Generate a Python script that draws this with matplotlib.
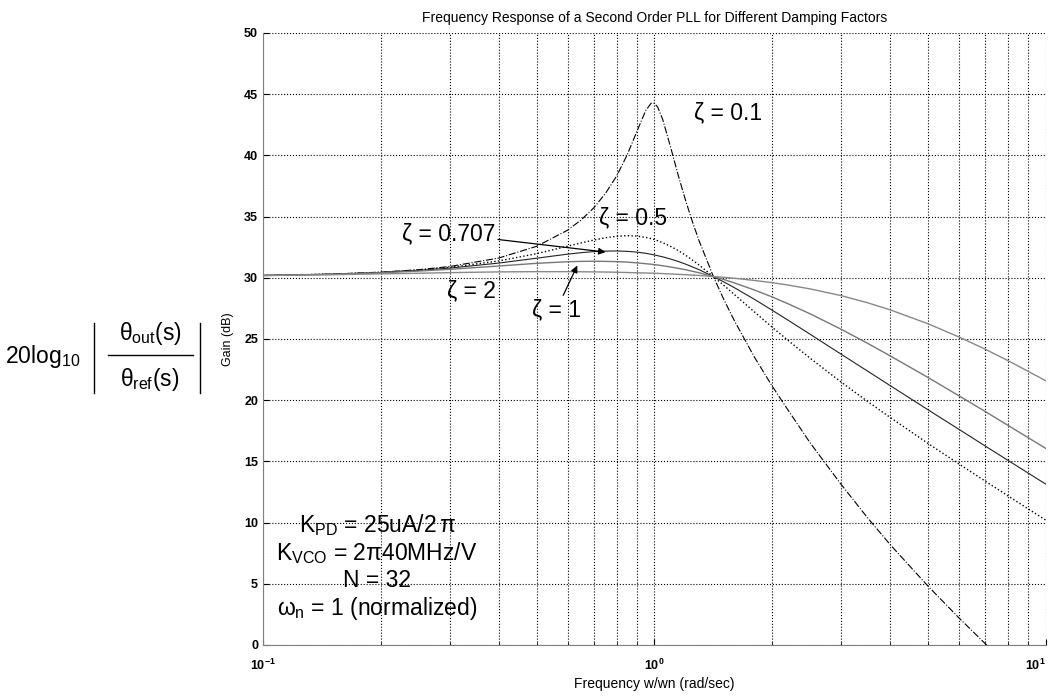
import matplotlib
matplotlib.use("Agg")
import matplotlib.pyplot as plt
import matplotlib.transforms as mtransforms
from matplotlib.lines import Line2D
import numpy as np

plt.rcParams['font.family'] = ['Liberation Sans', 'DejaVu Sans']
plt.rcParams['mathtext.fontset'] = 'custom'
plt.rcParams['mathtext.rm'] = 'Liberation Sans'
plt.rcParams['mathtext.it'] = 'Liberation Sans'
plt.rcParams['mathtext.bf'] = 'Liberation Sans:bold'

# normalized frequency w/wn
w = [0.1, 0.15, 0.2, 0.25, 0.3, 0.4, 0.5, 0.6, 0.65, 0.7, 0.75, 0.8, 0.85, 0.9, 0.95, 0.98,
     1.0, 1.02, 1.05, 1.1, 1.15, 1.2, 1.25, 1.3, 1.414, 1.5, 1.6, 1.8, 2.0, 2.2, 2.5, 3,
     3.5, 4, 5, 6, 7, 8, 10]

# closed loop gain (dB) for each damping factor
gain_z01 = [30.19, 30.30, 30.46, 30.66, 30.92, 31.61, 32.57, 33.89, 34.73, 35.72, 36.90, 38.30,
            39.98, 41.89, 43.67, 44.25, 44.25, 43.92, 42.92, 40.65, 38.37, 36.35, 34.58, 33.03,
            30.10, 28.30, 26.49, 23.52, 21.13, 19.13, 16.50, 13.10, 10.40, 8.20, 4.80, 2.20,
            0.10, -1.50, -3.90]
gain_z05 = [30.19, 30.30, 30.44, 30.63, 30.85, 31.37, 31.97, 32.58, 32.85, 33.08, 33.27, 33.39,
            33.44, 33.41, 33.30, 33.20, 33.11, 33.02, 32.87, 32.56, 32.22, 31.85, 31.45, 31.04,
            30.10, 29.41, 28.63, 27.21, 25.95, 24.85, 23.42, 21.47, 19.90, 18.59, 16.46, 14.78,
            13.38, 12.18, 10.19]
gain_z0707 = [30.19, 30.29, 30.43, 30.60, 30.79, 31.20, 31.60, 31.93, 32.05, 32.14, 32.18, 32.19,
              32.16, 32.10, 32.00, 31.92, 31.86, 31.80, 31.71, 31.53, 31.33, 31.12, 30.89, 30.66,
              30.10, 29.68, 29.19, 28.24, 27.34, 26.51, 25.38, 23.75, 22.38, 21.19, 19.21, 17.61,
              16.25, 15.08, 13.13]
gain_z1 = [30.19, 30.28, 30.41, 30.55, 30.69, 30.96, 31.18, 31.31, 31.34, 31.35, 31.34, 31.32,
           31.28, 31.22, 31.15, 31.11, 31.07, 31.04, 30.98, 30.88, 30.77, 30.66, 30.53, 30.41,
           30.10, 29.87, 29.58, 29.00, 28.43, 27.86, 27.05, 25.79, 24.65, 23.62, 21.85, 20.35,
           19.07, 17.94, 16.05]
gain_z2 = [30.18, 30.25, 30.32, 30.37, 30.42, 30.48, 30.50, 30.50, 30.49, 30.48, 30.47, 30.45,
           30.43, 30.41, 30.39, 30.38, 30.37, 30.36, 30.34, 30.31, 30.28, 30.25, 30.22, 30.19,
           30.10, 30.04, 29.96, 29.78, 29.60, 29.40, 29.09, 28.54, 27.96, 27.38, 26.24, 25.16,
           24.16, 23.23, 21.58]

W, H = 1049, 700
fig = plt.figure(figsize=(W / 100, H / 100), dpi=100)
ax = fig.add_axes([0.2507, 0.0786, 0.7464, 0.8743])

ax.semilogx(w, gain_z01, color='k', ls='-.', lw=0.8)
ax.semilogx(w, gain_z05, color='k', ls=':', lw=1.0)
ax.semilogx(w, gain_z0707, color='#222222', ls='-', lw=0.8)
ax.semilogx(w, gain_z1, color='#777777', ls='-', lw=1.0)
ax.semilogx(w, gain_z2, color='#888888', ls='-', lw=1.0)

ax.set_xlim(0.1, 10)
ax.set_ylim(0, 50)
ax.set_yticks(np.arange(0, 51, 5))
ax.set_xticks([0.1, 1, 10])
ax.set_xticklabels([r'$\mathbf{10^{-1}}$', r'$\mathbf{10^{0}}$', r'$\mathbf{10^{1}}$'])
ax.get_xticklabels()[-1].set_ha('right')
ax.tick_params(which='both', direction='in', labelsize=9, length=4)
ax.tick_params(which='minor', length=2)
ax.tick_params(axis='x', which='major', pad=9)
for lbl in ax.get_yticklabels():
    lbl.set_fontweight('bold')

ax.grid(True, which='major', ls=':', color='k', lw=0.8)
ax.grid(True, which='minor', axis='x', ls=':', color='k', lw=0.8)
for side in ['top', 'right']:
    ax.spines[side].set_visible(False)
for side in ['left', 'bottom']:
    ax.spines[side].set_color('#808080')

ax.set_title('Frequency Response of a Second Order PLL for Different Damping Factors',
             fontsize=10, pad=8)
ax.set_xlabel('Frequency w/wn (rad/sec)', fontsize=10, labelpad=3)
ax.set_ylabel('Gain (dB)', fontsize=9, labelpad=7)

# damping factor labels
tfs = 16.5
ax.text(1.26, 43.5, 'ζ = 0.1', fontsize=tfs, va='center')
ax.text(0.72, 34.9, 'ζ = 0.5', fontsize=tfs, va='center')
ax.text(0.296, 28.9, 'ζ = 2', fontsize=tfs, va='center')
arrow = dict(arrowstyle='-|>', color='k', lw=0.9, mutation_scale=10, shrinkA=0, shrinkB=0)
ax.annotate('ζ = 0.707', xy=(0.75, 32.1), xytext=(0.392, 33.6), fontsize=tfs,
            ha='right', va='center', arrowprops=arrow)
ax.annotate('ζ = 1', xy=(0.635, 31.0), xytext=(0.562, 27.4), fontsize=tfs,
            ha='center', va='center', arrowprops=arrow)

# loop parameters
params = [r'K$_{\mathrm{PD}}$ = 25uA/2$\,\pi$',
          r'K$_{\mathrm{VCO}}$ = 2$\pi$40MHz/V',
          'N = 32',
          r'$\omega_{\mathrm{n}}$ = 1 (normalized)']
blend = mtransforms.blended_transform_factory(ax.transAxes, ax.transData)
for i, s in enumerate(params):
    ax.text(0.1456, 9.8 - 2.27 * i, s, fontsize=16.5, ha='center', va='center',
            transform=blend)

# 20log10 |theta_out / theta_ref| label on the left
def px(x, y):
    return x / W, 1 - y / H

fig.text(*px(5, 356), r'20log$_{10}$', fontsize=16.5, ha='left', va='center')
fig.text(*px(150, 333), r'$\theta_{\mathrm{out}}$(s)', fontsize=16.5, ha='center', va='center')
fig.text(*px(150, 379), r'$\theta_{\mathrm{ref}}$(s)', fontsize=16.5, ha='center', va='center')
for xs, ys in [((94, 94), (323, 393)), ((200, 200), (323, 393)), ((108, 193), (355, 355))]:
    (x0, y0), (x1, y1) = px(xs[0], ys[0]), px(xs[1], ys[1])
    fig.add_artist(Line2D([x0, x1], [y0, y1], color='k', lw=1.0, transform=fig.transFigure))

fig.savefig('out.png', dpi=100)
